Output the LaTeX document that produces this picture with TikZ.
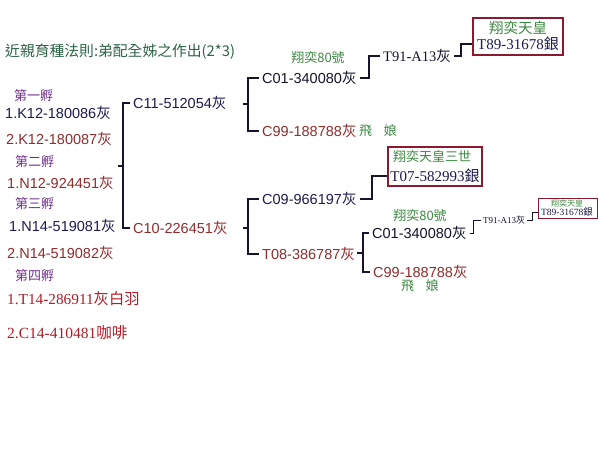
\documentclass[tikz,border=0pt]{standalone}
\usepackage{fontspec}
\setmainfont{Liberation Sans}
\newfontfamily\cjkfont{Noto Sans CJK TC}
\newfontfamily\serfont{Liberation Serif}
\usetikzlibrary{positioning}
\definecolor{navy}{RGB}{28,28,80}
\definecolor{ink}{RGB}{20,20,45}
\definecolor{brick}{RGB}{145,45,45}
\definecolor{crimson}{RGB}{175,30,40}
\definecolor{leaf}{RGB}{60,135,65}
\definecolor{pine}{RGB}{45,100,70}
\definecolor{plum}{RGB}{110,45,140}
\definecolor{boxred}{RGB}{140,25,45}
\tikzset{bird/.style={anchor=west,inner sep=3pt,font=\fontsize{14.5}{17}\selectfont}}
\tikzset{ming/.style={anchor=west,inner sep=3pt,font=\serfont\fontsize{14.5}{16}\selectfont}}
\tikzset{hatch/.style={anchor=west,inner sep=1pt,text=plum,font=\cjkfont\fontsize{13}{15}\selectfont}}
\tikzset{nick/.style={text=leaf,inner sep=1pt,font=\cjkfont\fontsize{13}{15}\selectfont}}
\tikzset{king/.style={draw=boxred,line width=1.2pt,inner sep=0pt}}
\tikzset{link/.style={draw=ink,line width=1.8pt}}
\tikzset{thin link/.style={draw=ink,line width=1.2pt}}
\newcommand{\zh}[1]{{\cjkfont #1}}

\begin{document}
\begin{tikzpicture}[x=1pt,y=-1pt]
\useasboundingbox[fill=white] (0,0) rectangle (600,450);
\node[anchor=west,inner sep=0pt,text=pine,font=\cjkfont\fontsize{14.8}{17}\selectfont](title) at (5,52) {近親育種法則:弟配全姊之作出(2*3)};

% hatches on the left
\node[hatch](h1) at (13,96) {第一孵};
\node[bird,text=navy](k1) at (2,113) {1.K12-180086\zh{灰}};
\node[bird,text=brick](k2) at (3,139) {2.K12-180087\zh{灰}};
\node[hatch](h2) at (14,162) {第二孵};
\node[bird,text=brick](n1) at (4,183) {1.N12-924451\zh{灰}};
\node[hatch](h3) at (14,204) {第三孵};
\node[bird,text=navy](m1) at (6,226) {1.N14-519081\zh{灰}};
\node[bird,text=brick](m2) at (4,253) {2.N14-519082\zh{灰}};
\node[hatch](h4) at (14,276) {第四孵};
\node[ming,text=crimson,font=\serfont\fontsize{15.3}{17}\selectfont](t14) at (4,299) {1.T14-286911\zh{灰白羽}};
\node[ming,text=crimson,font=\serfont\fontsize{15.5}{17}\selectfont](c14) at (4,333) {2.C14-410481\zh{咖啡}};

% parents
\node[bird,text=navy](c11) at (130,103) {C11-512054\zh{灰}};
\node[bird,text=brick](c10) at (130,228) {C10-226451\zh{灰}};
\coordinate (j1) at (123,166);
\draw[link] (c11.west) -| (j1) |- (c10.west);
\draw[link] (j1) -- ++(-5,0);

% sire side
\node[bird,text=ink](c01a) at (259,78) {C01-340080\zh{灰}};
\node[bird,text=brick](c99a) at (259,131) {C99-188788\zh{灰}};
\node[nick](n80a) at (318,58) {翔奕80號};
\node[nick](flya) at (378,131) {飛\hspace{0.9em}娘};
\coordinate (j2) at (248,104);
\draw[link] (c01a.west) -| (j2) |- (c99a.west);
\draw[link] (j2) -- ++(-5,0);

\node[ming,text=ink](t91a) at (380,56) {T91-A13\zh{灰}};
\draw[link] (c01a.east) -- ++(9,0) |- (t91a.west);
\node[king,minimum width=90pt,minimum height=37pt](box1) at (518,36.5) {};
\node[nick,font=\cjkfont\fontsize{14.5}{16}\selectfont](kt1) at (518,28) {翔奕天皇};
\node[inner sep=0pt,text=navy,font=\serfont\fontsize{15}{17}\selectfont](kn1) at (518,44) {T89-31678\zh{銀}};
\draw[thin link] (t91a.east) -- ++(7,0) |- (box1.west |- kn1);

% dam side
\node[bird,text=navy](c09) at (259,199) {C09-966197\zh{灰}};
\node[bird,text=brick](t08) at (259,254) {T08-386787\zh{灰}};
\coordinate (j3) at (248,228);
\draw[link] (c09.west) -| (j3) |- (t08.west);
\draw[link] (j3) -- ++(-5,0);

\node[king,minimum width=94pt,minimum height=39pt](box2) at (435,166.5) {};
\node[nick](kt2) at (432,157) {翔奕天皇三世};
\node[inner sep=0pt,text=navy,font=\serfont\fontsize{15}{17}\selectfont](kn2) at (435,176) {T07-582993\zh{銀}};
\draw[link] (c09.east) -- ++(12,0) |- (box2.west |- kn2);

\node[bird,text=ink](c01b) at (369,233) {C01-340080\zh{灰}};
\node[bird,text=brick](c99b) at (370,272) {C99-188788\zh{灰}};
\node[nick](n80b) at (420,216) {翔奕80號};
\node[nick](flyb) at (420,286) {飛\hspace{0.9em}娘};
\coordinate (j4) at (363,253);
\draw[thin link] (c01b.west) -| (j4) |- (c99b.west);
\draw[thin link] (j4) -- ++(-6,0);

\node[ming,inner sep=2pt,font=\serfont\fontsize{9}{10}\selectfont,text=ink](t91b) at (481,220) {T91-A13\zh{灰}};
\draw[thin link,line width=1pt] (c01b.east) -- ++(4,0) |- (t91b.west);
\node[king,line width=0.9pt,minimum width=59pt,minimum height=20pt](box3) at (567.5,208) {};
\node[nick,font=\cjkfont\fontsize{8}{9}\selectfont](kt3) at (567,203) {翔奕天皇};
\node[inner sep=0pt,text=navy,font=\serfont\fontsize{9.5}{10}\selectfont](kn3) at (567,212) {T89-31678\zh{銀}};
\draw[thin link,line width=0.8pt] (t91b.east) -- ++(5,0) |- (box3.west |- kn3);
\end{tikzpicture}
\end{document}
